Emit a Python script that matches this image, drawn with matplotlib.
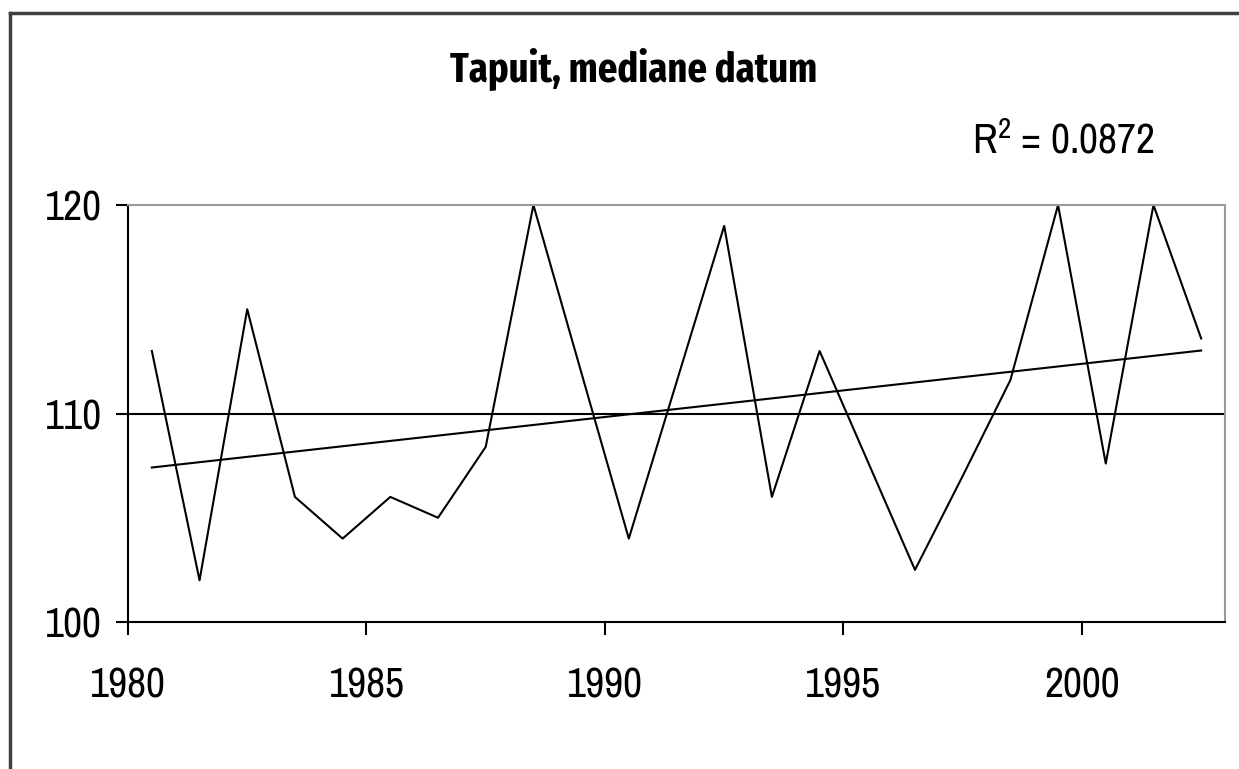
import matplotlib
matplotlib.use("Agg")
import matplotlib.pyplot as plt
from matplotlib import font_manager
from matplotlib.lines import Line2D
import numpy as np

# data
years = [1980.5, 1981.5, 1982.5, 1983.5, 1984.5, 1985.5, 1986.5, 1987.5,
         1988.5, 1989.5, 1990.5, 1991.5, 1992.5, 1993.5, 1994.5, 1995.5,
         1996.5, 1997.5, 1998.5, 1999.5, 2000.5, 2001.5, 2002.5]
median_day = [113, 102, 115, 106, 104, 106, 105, 108.4,
              120, 112, 104, 111.5, 119, 106, 113, 107.75,
              102.5, 107, 111.6, 120, 107.6, 120, 113.6]
xticks = [1980, 1985, 1990, 1995, 2000]
yticks = [100, 110, 120]
title = "Tapuit, mediane datum"
r2_label = "R$^2$ = 0.0872"

# narrow Arial-like faces if we have them
names = {f.name for f in font_manager.fontManager.ttflist}
def pick(cands):
    for c in cands:
        if c in names:
            return c
    return "Liberation Sans"

face = pick(["Liberation Sans Narrow", "Arial Narrow", "Archivo Narrow"])
bold_face = pick(["Liberation Sans Narrow", "Arial Narrow", "Fira Sans Extra Condensed",
                  "IBM Plex Sans Condensed"])
plt.rcParams["font.family"] = [face, "DejaVu Sans"]
plt.rcParams["mathtext.default"] = "regular"

fig = plt.figure(figsize=(12.39, 7.69), dpi=100)
ax = fig.add_axes([128 / 1239, 1 - 622 / 769, (1225 - 128) / 1239, (622 - 205) / 769])

ax.plot(years, median_day, color="black", lw=1.5)

# linear trend line
coef = np.polyfit(years, median_day, 1)
xs = np.array([years[0], years[-1]])
ax.plot(xs, np.polyval(coef, xs), color="black", lw=1.5)

ax.set_xlim(1980, 2003)
ax.set_ylim(100, 120)
ax.set_xticks(xticks)
ax.set_yticks(yticks)
ax.axhline(110, color="black", lw=1.5, zorder=0)

for s in ["left", "bottom"]:
    ax.spines[s].set_color("black")
    ax.spines[s].set_linewidth(1.5)
for s in ["top", "right"]:
    ax.spines[s].set_color("#9a9a9a")
    ax.spines[s].set_linewidth(1.5)

ax.tick_params(axis="both", direction="out", length=9, width=1.5, labelsize=30)
ax.tick_params(axis="y", pad=10)
ax.tick_params(axis="x", pad=23)

fig.text(0.5117, 1 - 82 / 769, title, ha="center", va="baseline",
         fontsize=30, fontweight="bold", family=[bold_face, "DejaVu Sans"])
fig.text(972 / 1239, 1 - 153 / 769, r2_label, ha="left", va="baseline",
         fontsize=30)

# outer chart border (only left and top are inside the picture)
fig.add_artist(Line2D([10 / 1239, 10 / 1239], [0, 1 - 13 / 769],
                      transform=fig.transFigure, color="#404040", lw=2.5))
fig.add_artist(Line2D([10 / 1239, 1], [1 - 13 / 769, 1 - 13 / 769],
                      transform=fig.transFigure, color="#404040", lw=2.5))

fig.savefig("out.png", dpi=100)
